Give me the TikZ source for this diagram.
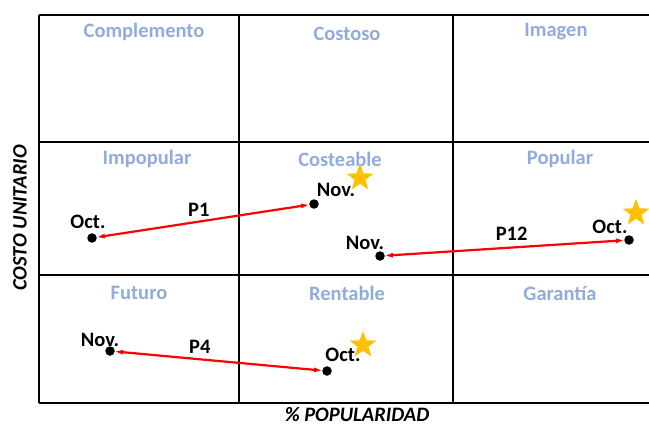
\documentclass[tikz,border=0pt]{standalone}
\usepackage{fontspec}
\setmainfont{Carlito}
\usetikzlibrary{arrows.meta,shapes.geometric}
\definecolor{celeste}{RGB}{143,172,219}
\definecolor{oro}{RGB}{255,192,0}

\begin{document}
\begin{tikzpicture}[x=1pt,y=-1pt,>={[inset=0,angle'=28,length=8pt]Stealth},
    font=\fontsize{20.5}{24}\selectfont\bfseries,
    cuad/.style={text=celeste},
    punto/.style={circle,fill,inner sep=0pt,minimum size=9.5pt},
    estrella/.style={star,star points=5,star point ratio=2.4,fill=oro,inner sep=0pt,minimum size=28pt},
    flecha/.style={<->,red,line width=2.2pt}]
  \useasboundingbox (0,0) rectangle (649,428);
  \draw [line width=2pt](39,15)--(650,15) (39,142)--(650,142) (39,275)--(650,275) (39,403)--(650,403);
  \draw [line width=2pt](39,15)--(39,403) (239,15)--(239,403) (453,15)--(453,403);
  \node[cuad] (complemento) at (144,32) {Complemento};
  \node[cuad] (costoso)     at (347,34) {Costoso};
  \node[cuad] (imagen)      at (556,32) {Imagen};
  \node[cuad] (impopular)   at (147,159) {Impopular};
  \node[cuad] (costeable)   at (340,159) {Costeable};
  \node[cuad] (popular)     at (560,159) {Popular};
  \node[cuad] (futuro)      at (139,293) {Futuro};
  \node[cuad] (rentable)    at (347,293) {Rentable};
  \node[cuad] (garantia)    at (560,293) {Garantía};
  % P1
  \node[punto] (oct1) at (92,238) {};
  \node[punto] (nov1) at (314,204) {};
  \node (oct1t) at (88,222) {Oct.};
  \node (nov1t) at (336,190) {Nov.};
  \node[estrella] (est1) at (360,178) {};
  \draw [flecha](oct1)--node[pos=.48,above=1pt,black]{P1}(nov1);
  % P12
  \node[punto] (nov12) at (380,256) {};
  \node[punto] (oct12) at (629,240) {};
  \node (nov12t) at (365,243) {Nov.};
  \node (oct12t) at (610,227) {Oct.};
  \node[estrella] (est12) at (636,213) {};
  \draw [flecha](nov12)--node[pos=.53,above=3pt,black]{P12}(oct12);
  % P4
  \node[punto] (nov4) at (110,351) {};
  \node[punto] (oct4) at (327,371) {};
  \node (nov4t) at (100,340) {Nov.};
  \node (oct4t) at (343,355) {Oct.};
  \node[estrella] (est4) at (363,345) {};
  \draw [flecha](nov4)--node[pos=.41,above=1pt,black]{P4}(oct4);
  % ejes
  \node[rotate=90,font=\fontsize{20.5}{24}\selectfont\bfseries\itshape] (ycosto) at (20,218) {COSTO UNITARIO};
  \node[font=\fontsize{20.5}{24}\selectfont\bfseries\itshape,inner ysep=0pt] (xpop) at (357,415) {\% POPULARIDAD};
\end{tikzpicture}
\end{document}
